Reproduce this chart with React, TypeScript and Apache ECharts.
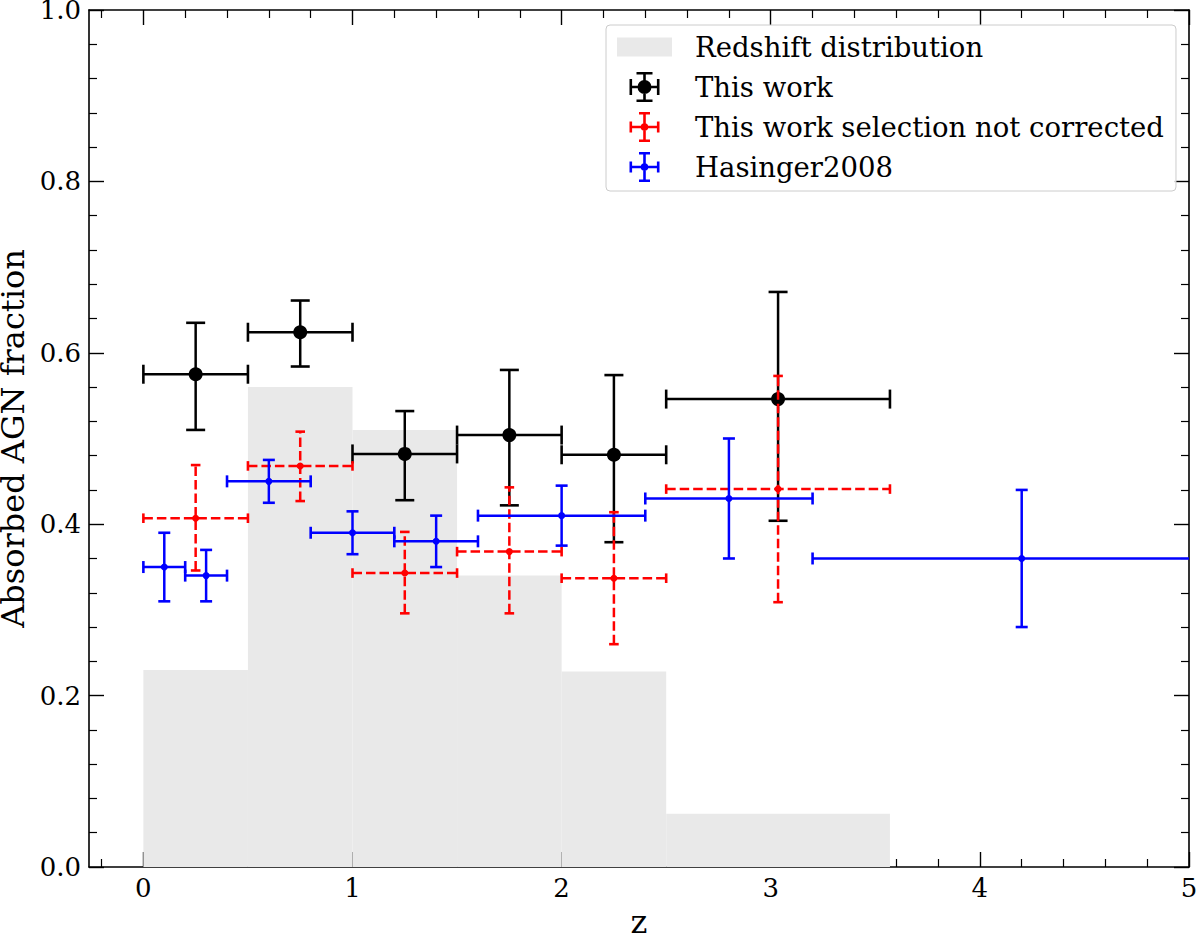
import { useEffect, useRef } from 'react';
import * as echarts from 'echarts';

// Redshift distribution histogram (bin edges and heights)
const histEdges = [0, 0.5, 1.0, 1.5, 2.0, 2.5, 3.57];
const histHeights = [0.23, 0.56, 0.51, 0.34, 0.228, 0.062];

// This work
const workZ = [0.25, 0.75, 1.25, 1.75, 2.25, 3.035];
const workZLo = [0, 0.5, 1.0, 1.5, 2.0, 2.5];
const workZHi = [0.5, 1.0, 1.5, 2.0, 2.5, 3.57];
const workFrac = [0.575, 0.624, 0.482, 0.504, 0.481, 0.546];
const workFracLo = [0.51, 0.584, 0.428, 0.422, 0.379, 0.404];
const workFracHi = [0.635, 0.661, 0.532, 0.58, 0.574, 0.671];

// This work, selection not corrected
const uncorrFrac = [0.407, 0.468, 0.343, 0.368, 0.337, 0.441];
const uncorrFracLo = [0.346, 0.427, 0.296, 0.296, 0.26, 0.309];
const uncorrFracHi = [0.469, 0.508, 0.391, 0.443, 0.414, 0.573];

// Hasinger 2008
const hasZ = [0.1, 0.3, 0.6, 1.0, 1.4, 2.0, 2.8, 4.2];
const hasZLo = [0.0, 0.2, 0.4, 0.8, 1.2, 1.6, 2.4, 3.2];
const hasZHi = [0.2, 0.4, 0.8, 1.2, 1.6, 2.4, 3.2, 5.2];
const hasFrac = [0.35, 0.34, 0.45, 0.39, 0.38, 0.41, 0.43, 0.36];
const hasFracLo = [0.31, 0.31, 0.425, 0.365, 0.35, 0.375, 0.36, 0.28];
const hasFracHi = [0.39, 0.37, 0.475, 0.415, 0.41, 0.445, 0.5, 0.44];

const xMajorTicks = [0, 1, 2, 3, 4, 5];

const FONT = 'DejaVu Serif';

// legend glyph: errorbar cross with caps and a round marker, 30x30 box
const glyph = (cap: number, r: number) => {
  const w = 1.3;
  const c = 15;
  const rect = (x0: number, y0: number, x1: number, y1: number) =>
    `M${x0},${y0}H${x1}V${y1}H${x0}Z`;
  let d =
    rect(c - w, 0, c + w, 30) +
    rect(0, c - w, 30, c + w) +
    rect(c - cap, 0, c + cap, 2 * w) +
    rect(c - cap, 30 - 2 * w, c + cap, 30) +
    rect(0, c - cap, 2 * w, c + cap) +
    rect(30 - 2 * w, c - cap, 30, c + cap);
  d += `M${c - r},${c}A${r},${r},0,1,1,${c + r},${c}A${r},${r},0,1,1,${c - r},${c}Z`;
  return 'path://' + d;
};

const errorBars = (color: string, cap: number, markerR: number, dashed: boolean) =>
  (params: any, api: any) => {
    const x = api.value(0);
    const y = api.value(1);
    const c = api.coord([x, y]);
    const l = api.coord([api.value(2), y]);
    const r = api.coord([api.value(3), y]);
    const b = api.coord([x, api.value(4)]);
    const t = api.coord([x, api.value(5)]);
    const lineStyle: any = { stroke: color, lineWidth: 2.5, fill: null };
    if (dashed) lineStyle.lineDash = [9.5, 4];
    const capStyle = { stroke: color, lineWidth: 2.6, fill: null };
    return {
      type: 'group',
      children: [
        { type: 'line', shape: { x1: l[0], y1: l[1], x2: r[0], y2: r[1] }, style: lineStyle },
        { type: 'line', shape: { x1: b[0], y1: b[1], x2: t[0], y2: t[1] }, style: lineStyle },
        { type: 'line', shape: { x1: l[0], y1: l[1] - cap, x2: l[0], y2: l[1] + cap }, style: capStyle },
        { type: 'line', shape: { x1: r[0], y1: r[1] - cap, x2: r[0], y2: r[1] + cap }, style: capStyle },
        { type: 'line', shape: { x1: b[0] - cap, y1: b[1], x2: b[0] + cap, y2: b[1] }, style: capStyle },
        { type: 'line', shape: { x1: t[0] - cap, y1: t[1], x2: t[0] + cap, y2: t[1] }, style: capStyle },
        { type: 'circle', shape: { cx: c[0], cy: c[1], r: markerR }, style: { fill: color } },
      ],
    };
  };

export default function App() {
  const chartRef = useRef<HTMLDivElement>(null);

  useEffect(() => {
    if (!chartRef.current) return;
    const chart = echarts.init(chartRef.current, null, { renderer: 'svg' });

    const histData = histHeights.map((h, i) => [histEdges[i], histEdges[i + 1], h]);
    const workData = workZ.map((z, i) => [z, workFrac[i], workZLo[i], workZHi[i], workFracLo[i], workFracHi[i]]);
    const uncorrData = workZ.map((z, i) => [z, uncorrFrac[i], workZLo[i], workZHi[i], uncorrFracLo[i], uncorrFracHi[i]]);
    const hasData = hasZ.map((z, i) => [z, hasFrac[i], hasZLo[i], hasZHi[i], hasFracLo[i], hasFracHi[i]]);

    const axisLine = { show: true, onZero: false, lineStyle: { color: '#000', width: 1.6 } };
    const tickLine = { color: '#000', width: 1.4 };
    const minorLine = { color: '#000', width: 1.2 };
    const labelStyle = { fontFamily: FONT, fontSize: 26, color: '#000' };

    const xCommon: any = {
      type: 'value',
      min: -0.26,
      max: 5,
      minInterval: 1,
      maxInterval: 1,
      axisLine,
      axisTick: { show: true, inside: true, length: 15, lineStyle: tickLine, customValues: xMajorTicks },
      minorTick: { show: true, splitNumber: 5, length: 8, lineStyle: minorLine },
      splitLine: { show: false },
      minorSplitLine: { show: false },
    };
    const yCommon: any = {
      type: 'value',
      min: 0,
      max: 1,
      interval: 0.2,
      axisLine,
      axisTick: { show: true, inside: true, length: 15, lineStyle: tickLine },
      minorTick: { show: true, splitNumber: 5, length: 8, lineStyle: minorLine },
      splitLine: { show: false },
      minorSplitLine: { show: false },
    };

    const option: any = {
      animation: false,
      backgroundColor: '#fff',
      textStyle: { fontFamily: FONT },
      grid: {
        left: 89,
        right: 11,
        top: 10,
        bottom: 66,
        containLabel: false,
        outerBoundsMode: 'none',
      },
      xAxis: [
        {
          ...xCommon,
          position: 'bottom',
          name: 'z',
          nameLocation: 'middle',
          nameGap: 35,
          nameTextStyle: { fontFamily: FONT, fontSize: 32, color: '#000' },
          axisLabel: { ...labelStyle, margin: 8, customValues: xMajorTicks, formatter: (v: number) => String(v) },
        },
        { ...xCommon, position: 'top', axisLabel: { show: false } },
      ],
      yAxis: [
        {
          ...yCommon,
          position: 'left',
          name: 'Absorbed AGN fraction',
          nameLocation: 'middle',
          nameGap: 57,
          nameTextStyle: { fontFamily: FONT, fontSize: 32, color: '#000' },
          axisLabel: { ...labelStyle, margin: 8, formatter: (v: number) => v.toFixed(1) },
        },
        { ...yCommon, position: 'right', axisLabel: { show: false } },
      ],
      legend: {
        orient: 'vertical',
        left: 606,
        top: 25,
        itemWidth: 55,
        itemHeight: 30,
        itemGap: 10,
        padding: [7, 12, 9, 11],
        backgroundColor: 'rgba(255,255,255,0.85)',
        borderColor: '#cccccc',
        borderWidth: 1,
        borderRadius: 4,
        selectedMode: false,
        itemStyle: { borderWidth: 0 },
        textStyle: { fontFamily: FONT, fontSize: 27.5, color: '#000', lineHeight: 30, padding: [0, 0, 0, 18] },
        data: [
          { name: 'Redshift distribution', icon: 'path://M0,0H55V19H0Z', itemStyle: { color: '#e9e9e9' } },
          { name: 'This work', icon: glyph(8, 7), itemStyle: { color: '#000000' } },
          { name: 'This work selection not corrected', icon: glyph(5.5, 3.8), itemStyle: { color: '#ff0000' } },
          { name: 'Hasinger2008', icon: glyph(5.5, 3.8), itemStyle: { color: '#0000ff' } },
        ],
      },
      series: [
        {
          type: 'custom',
          name: 'Redshift distribution',
          data: histData,
          encode: { x: [0, 1], y: 2 },
          itemStyle: { color: '#e9e9e9' },
          z: 1,
          renderItem: (params: any, api: any) => {
            const p0 = api.coord([api.value(0), 0]);
            const p1 = api.coord([api.value(1), api.value(2)]);
            return {
              type: 'rect',
              shape: { x: p0[0], y: p1[1], width: p1[0] - p0[0], height: p0[1] - p1[1] },
              style: { fill: '#e9e9e9' },
            };
          },
        },
        {
          type: 'custom',
          name: 'This work',
          data: workData,
          encode: { x: 0, y: 1 },
          itemStyle: { color: '#000000' },
          clip: true,
          z: 2,
          renderItem: errorBars('#000000', 9.5, 7, false),
        },
        {
          type: 'custom',
          name: 'This work selection not corrected',
          data: uncorrData,
          encode: { x: 0, y: 1 },
          itemStyle: { color: '#ff0000' },
          clip: true,
          z: 3,
          renderItem: errorBars('#ff0000', 4.8, 3.5, true),
        },
        {
          type: 'custom',
          name: 'Hasinger2008',
          data: hasData,
          encode: { x: 0, y: 1 },
          itemStyle: { color: '#0000ff' },
          clip: true,
          z: 4,
          renderItem: errorBars('#0000ff', 6, 3.5, false),
        },
      ],
    };

    chart.setOption(option);

    return () => {
      chart.dispose();
    };
  }, []);

  return (
    <div
      ref={chartRef}
      style={{ position: 'absolute', left: 0, top: 0, width: '1200px', height: '933px' }}
    ></div>
  );
}
